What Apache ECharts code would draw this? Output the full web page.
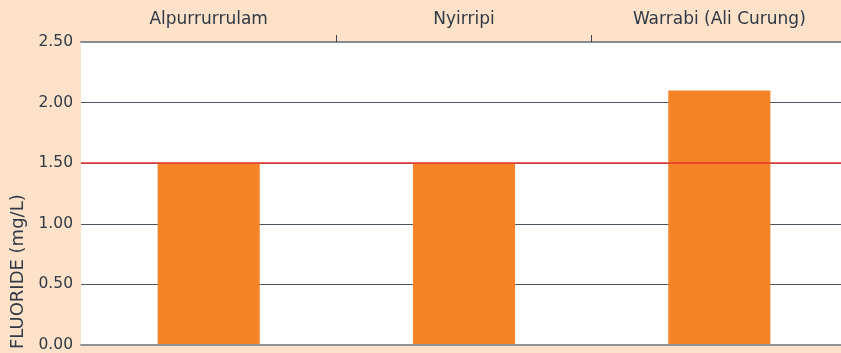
<!DOCTYPE html>
<html>
<head>
<meta charset="utf-8">
<script src="https://cdn.jsdelivr.net/npm/echarts@6/dist/echarts.min.js"></script>
<style>
html,body{margin:0;padding:0;background:#fde1c9;overflow:hidden;}
#chart{width:847px;height:353px;}
</style>
</head>
<body>
<div id="chart"></div>
<script>
const categories = ['Alpurrurrulam', 'Nyirripi', 'Warrabi (Ali Curung)'];
const fluorideValues = [1.5, 1.5, 2.1];
const guidelineValue = 1.5;
const yAxisTitle = 'FLUORIDE (mg/L)';

const textColor = '#2f3a45';
const fontFamily = 'DejaVu Sans';

const chart = echarts.init(document.getElementById('chart'), null, {renderer: 'canvas'});
chart.setOption({
  backgroundColor: '#fde1c9',
  animation: false,
  grid: {
    left: 81, top: 42, right: 0, bottom: 8,
    show: true, backgroundColor: '#ffffff', borderWidth: 0
  },
  xAxis: [{
    type: 'category',
    position: 'top',
    data: categories,
    axisLine: {show: true, onZero: false, lineStyle: {color: '#878c92', width: 2}},
    axisTick: {
      show: true, length: 7, alignWithLabel: false,
      interval: function (index) { return index > 0; },
      lineStyle: {color: '#3a4550', width: 1}
    },
    axisLabel: {color: textColor, fontSize: 17, fontFamily: fontFamily, margin: 14},
    splitLine: {show: false},
    z: 5
  }, {
    type: 'category',
    position: 'bottom',
    data: categories,
    axisLine: {show: true, onZero: false, lineStyle: {color: '#8e9296', width: 2}},
    axisTick: {show: false},
    axisLabel: {show: false},
    z: 5
  }],
  yAxis: {
    type: 'value',
    min: 0, max: 2.5, interval: 0.5,
    axisLine: {show: false},
    axisTick: {show: false},
    axisLabel: {
      color: textColor, fontSize: 15.5, fontFamily: fontFamily, margin: 8,
      formatter: v => v.toFixed(2)
    },
    splitLine: {show: true, lineStyle: {color: '#4b5660', width: 1}}
  },
  graphic: [{
    type: 'text',
    x: 18, y: 349,
    rotation: Math.PI / 2,
    style: {
      text: yAxisTitle, fill: textColor, fontSize: 18, fontFamily: fontFamily,
      textAlign: 'left', textVerticalAlign: 'middle'
    }
  }],
  series: [{
    type: 'bar',
    data: fluorideValues,
    barWidth: '40%',
    itemStyle: {color: '#f58328'},
    markLine: {
      silent: true,
      symbol: 'none',
      label: {show: false},
      lineStyle: {color: '#e4372c', width: 1.5, type: 'solid'},
      data: [{yAxis: guidelineValue}],
      z: 10
    }
  }]
});
</script>
</body>
</html>
